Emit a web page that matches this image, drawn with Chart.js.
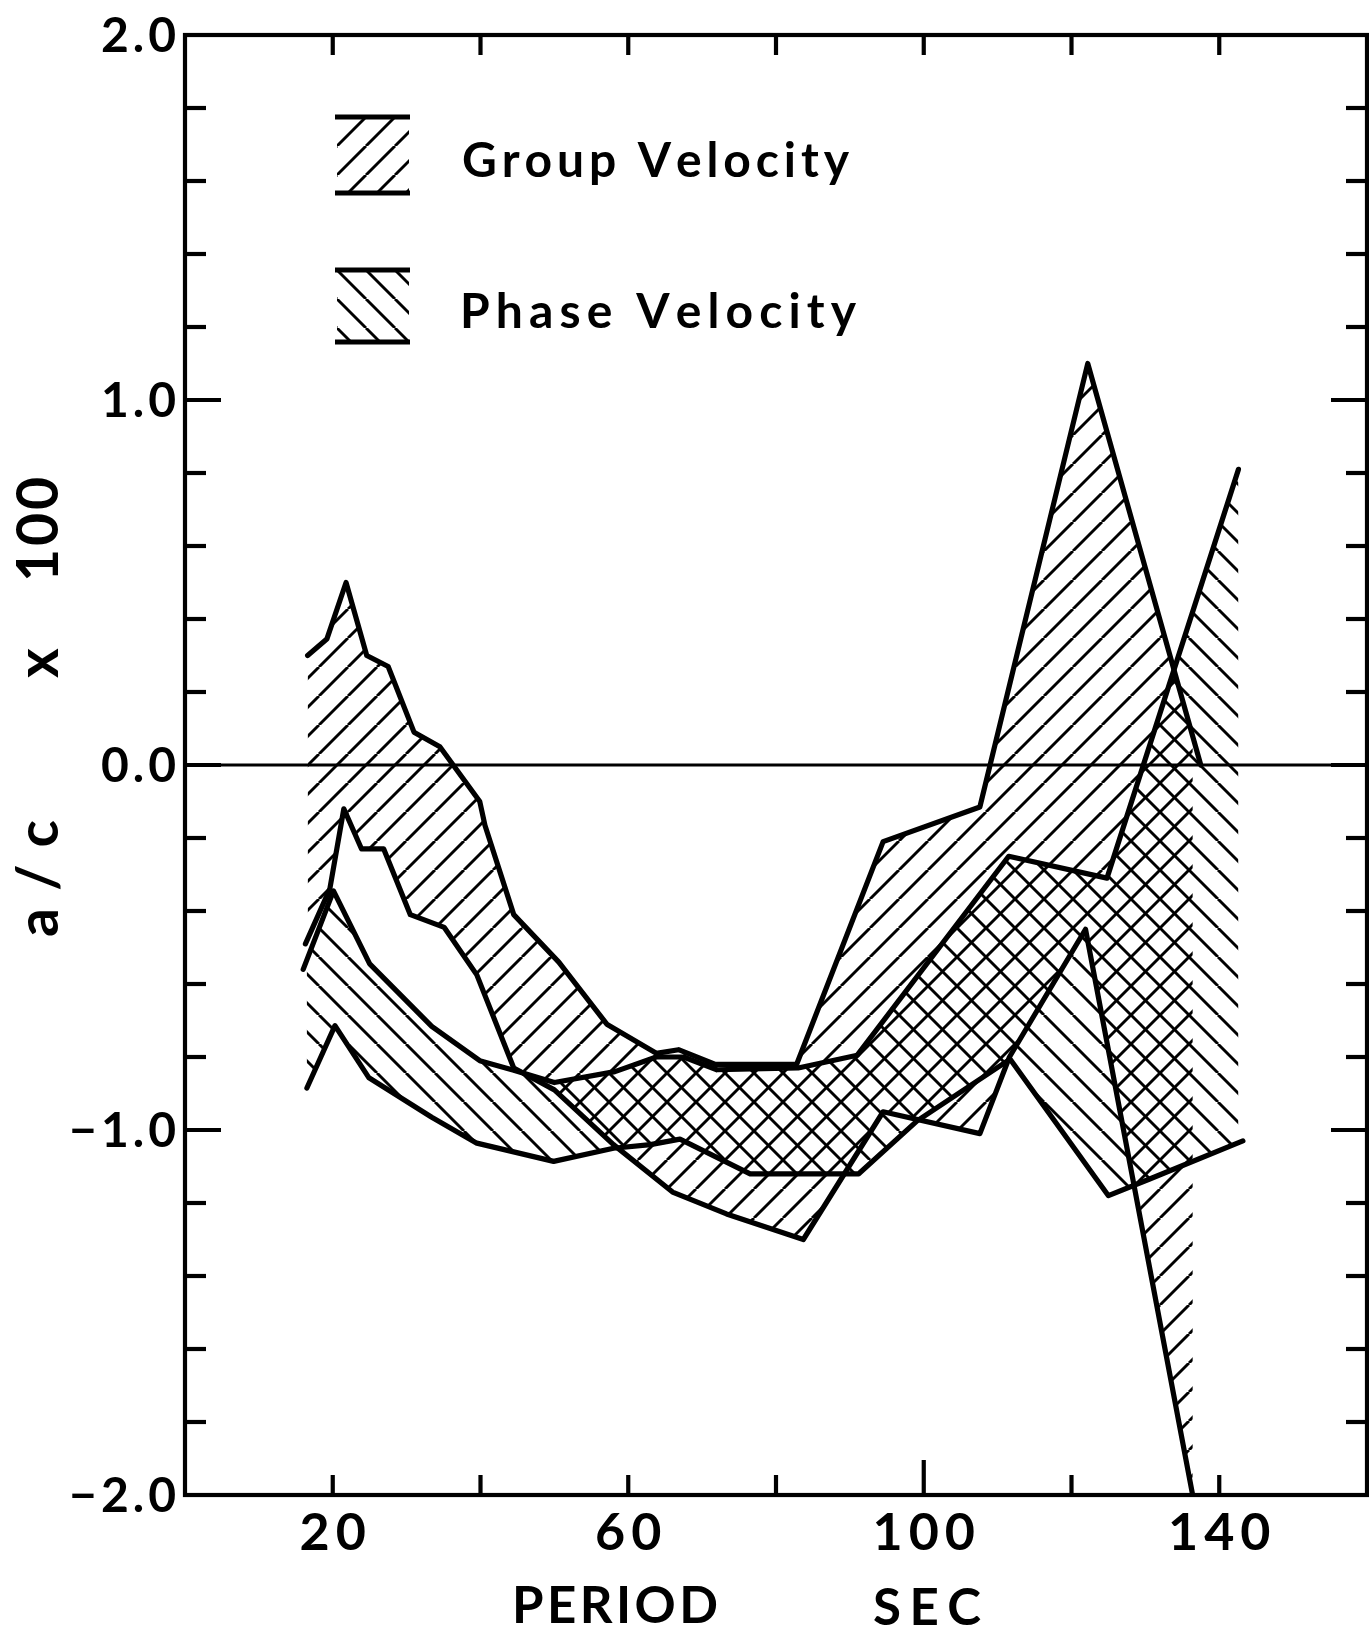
<!DOCTYPE html>
<html>
<head>
<meta charset="utf-8">
<title>a/c versus period</title>
<script src="https://cdn.jsdelivr.net/npm/chart.js@4.4.0/dist/chart.umd.min.js"></script>
<style>
  html, body { margin: 0; padding: 0; background: #fff; }
  #wrap { width: 1369px; height: 1635px; }
</style>
</head>
<body>
<div id="wrap"><canvas id="chart" width="1369" height="1635"></canvas></div>
<script>
// Period (sec) and a/c x 100 along each edge of the two bands
const groupUpperT = [16.6, 19.2, 21.8, 24.6, 27.5, 31.0, 34.5, 39.9, 40.6, 44.5, 50.6, 57.1, 63.8, 66.8, 71.8, 82.8, 94.5, 107.6, 122.2, 137.5];
const groupUpperV = [0.30, 0.345, 0.50, 0.30, 0.27, 0.09, 0.05, -0.10, -0.165, -0.41, -0.54, -0.71, -0.79, -0.78, -0.82, -0.82, -0.21, -0.115, 1.10, 0.0];

const groupLowerT = [16.3, 19.6, 21.5, 23.9, 26.9, 30.5, 35.1, 39.5, 44.5, 50.0, 58.0, 66.0, 73.3, 83.7, 94.5, 107.6, 111.6, 121.9, 136.4];
const groupLowerV = [-0.49, -0.34, -0.12, -0.23, -0.23, -0.41, -0.445, -0.575, -0.83, -0.89, -1.04, -1.17, -1.23, -1.30, -0.95, -1.01, -0.80, -0.45, -2.0];

const phaseUpperT = [16.0, 20.1, 25.0, 33.4, 39.9, 44.5, 50.0, 58.2, 63.8, 67.5, 72.0, 83.0, 91.0, 111.5, 124.8, 142.6];
const phaseUpperV = [-0.56, -0.345, -0.545, -0.716, -0.81, -0.836, -0.87, -0.84, -0.80, -0.80, -0.835, -0.83, -0.795, -0.25, -0.31, 0.81];

const phaseLowerT = [16.5, 20.3, 24.9, 33.4, 39.5, 49.9, 58.0, 63.0, 67.0, 76.5, 91.2, 99.1, 111.7, 125.0, 130.5, 143.2];
const phaseLowerV = [-0.885, -0.714, -0.857, -0.965, -1.036, -1.086, -1.05, -1.04, -1.025, -1.12, -1.12, -0.975, -0.806, -1.18, -1.135, -1.03];

// Axis ticks
const xTicks = [20, 40, 60, 80, 100, 120, 140];
const xTickLabels = ['20', '', '60', '', '100', '', '140'];
const yMajorTicks = [2, 1, 0, -1, -2];
const yTickLabels = ['2.0', '1.0', '0.0', '-1.0', '-2.0'];
const yMinorTicks = [1.8, 1.6, 1.4, 1.2, 0.8, 0.6, 0.4, 0.2, -0.2, -0.4, -0.6, -0.8, -1.2, -1.4, -1.6, -1.8];

const FONT = 'Lato, "DejaVu Sans", sans-serif';
const canvas = document.getElementById('chart');
const ctx0 = canvas.getContext('2d');

// diagonal hatch tiles: '/' for group velocity, '\' for phase velocity
function makeHatch(dir) {
    const s = 29;
    const tile = document.createElement('canvas');
    tile.width = s;
    tile.height = s;
    const g = tile.getContext('2d');
    g.strokeStyle = '#000';
    g.lineWidth = 2.9;
    g.beginPath();
    for (const k of [-1, 0, 1]) {
        if (dir === '/') {
            g.moveTo(k * s, s);
            g.lineTo(k * s + s, 0);
        } else {
            g.moveTo(k * s, 0);
            g.lineTo(k * s + s, s);
        }
    }
    g.stroke();
    return ctx0.createPattern(tile, 'repeat');
}

const groupHatch = makeHatch('/');
const phaseHatch = makeHatch('\\');

function points(ts, vs) {
    return ts.map((t, i) => ({ x: t, y: vs[i] }));
}

const edgeStyle = {
    borderColor: '#000',
    borderWidth: 5.2,
    borderJoinStyle: 'round',
    borderCapStyle: 'round',
    pointRadius: 0,
    tension: 0
};

// draw characters one by one so the string runs from x0 to x1
function fitText(ctx, text, x0, x1, y) {
    const chars = [...text];
    const widths = chars.map(ch => ctx.measureText(ch).width);
    const used = widths.reduce((s, w) => s + w, 0);
    const gap = chars.length > 1 ? (x1 - x0 - used) / (chars.length - 1) : 0;
    ctx.textAlign = 'left';
    let cx = x0;
    chars.forEach((ch, i) => {
        ctx.fillText(ch, cx, y);
        cx += widths[i] + gap;
    });
}

function spacedText(ctx, text, cx, y, gap, align) {
    const chars = [...text];
    const widths = chars.map(ch => ctx.measureText(ch).width);
    const total = widths.reduce((s, w) => s + w, 0) + gap * (chars.length - 1);
    let x = align === 'right' ? cx - total : cx - total / 2;
    ctx.textAlign = 'left';
    chars.forEach((ch, i) => {
        ctx.fillText(ch, x, y);
        x += widths[i] + gap;
    });
}

function seg(ctx, x1, y1, x2, y2) {
    ctx.beginPath();
    ctx.moveTo(x1, y1);
    ctx.lineTo(x2, y2);
    ctx.stroke();
}

const framePlugin = {
    id: 'frame',
    afterDatasetsDraw(chart) {
        const { ctx, chartArea: a, scales: { x, y } } = chart;
        ctx.save();
        ctx.strokeStyle = '#000';
        ctx.fillStyle = '#000';
        ctx.lineCap = 'butt';

        // zero line
        ctx.lineWidth = 3;
        const y0 = y.getPixelForValue(0);
        seg(ctx, a.left, y0, a.right, y0);

        // frame
        ctx.lineWidth = 4.2;
        ctx.strokeRect(a.left, a.top, a.right - a.left, a.bottom - a.top);

        // inward ticks, left and right
        yMinorTicks.forEach(v => {
            const py = y.getPixelForValue(v);
            seg(ctx, a.left, py, a.left + 21, py);
            seg(ctx, a.right - 21, py, a.right, py);
        });
        yMajorTicks.forEach(v => {
            const py = y.getPixelForValue(v);
            seg(ctx, a.left, py, a.left + 36, py);
            seg(ctx, a.right - 36, py, a.right, py);
        });

        // inward ticks, top and bottom
        xTicks.forEach(v => {
            const px = x.getPixelForValue(v);
            seg(ctx, px, a.top, px, a.top + 20);
            seg(ctx, px, a.bottom, px, a.bottom - (v === 100 ? 35 : 20));
        });

        // tick labels
        ctx.font = 'bold 48px ' + FONT;
        ctx.textBaseline = 'alphabetic';
        yMajorTicks.forEach((v, i) => {
            spacedText(ctx, yTickLabels[i].replace('-', '\u2212'), a.left - 9, y.getPixelForValue(v) + 17, 4, 'right');
        });
        ctx.font = 'bold 52px ' + FONT;
        xTicks.forEach((v, i) => {
            if (xTickLabels[i]) spacedText(ctx, xTickLabels[i], x.getPixelForValue(v), 1550, 6, 'center');
        });

        // axis titles
        ctx.font = 'bold 51px ' + FONT;
        fitText(ctx, 'PERIOD', 512, 718, 1623);
        fitText(ctx, 'SEC', 873, 981, 1625);

        ctx.save();
        ctx.translate(58, 0);
        ctx.rotate(-Math.PI / 2);
        ctx.font = 'bold 57px ' + FONT;
        fitText(ctx, 'a/c', -937, -820, 0);
        fitText(ctx, 'x', -678, -653, 0);
        fitText(ctx, '100', -582, -477, 0);
        ctx.restore();

        // legend
        const swatches = [
            { pattern: groupHatch, top: 117, bottom: 193, text: 'Group Velocity', tx0: 462, tx1: 849, base: 177 },
            { pattern: phaseHatch, top: 270, bottom: 342, text: 'Phase Velocity', tx0: 460, tx1: 856, base: 328 }
        ];
        swatches.forEach(s => {
            ctx.save();
            ctx.beginPath();
            ctx.rect(337, s.top, 72, s.bottom - s.top);
            ctx.clip();
            ctx.translate(337, s.top);
            ctx.fillStyle = s.pattern;
            ctx.fillRect(0, 0, 72, s.bottom - s.top);
            ctx.restore();
            ctx.lineWidth = 5;
            seg(ctx, 335, s.top, 410, s.top);
            seg(ctx, 335, s.bottom, 410, s.bottom);
            ctx.font = 'bold 48px ' + FONT;
            fitText(ctx, s.text, s.tx0, s.tx1, s.base);
        });

        ctx.restore();
    }
};

new Chart(canvas, {
    type: 'line',
    data: {
        datasets: [
            { ...edgeStyle, label: 'Group Velocity', data: points(groupUpperT, groupUpperV), fill: 1, backgroundColor: groupHatch },
            { ...edgeStyle, label: 'Group Velocity lower', data: points(groupLowerT, groupLowerV), fill: false },
            { ...edgeStyle, label: 'Phase Velocity', data: points(phaseUpperT, phaseUpperV), fill: 3, backgroundColor: phaseHatch },
            { ...edgeStyle, label: 'Phase Velocity lower', data: points(phaseLowerT, phaseLowerV), fill: false }
        ]
    },
    options: {
        responsive: false,
        animation: false,
        devicePixelRatio: 1,
        layout: { padding: { left: 185, right: 2, top: 35, bottom: 140 } },
        scales: {
            x: { type: 'linear', min: 0, max: 160, display: false },
            y: { type: 'linear', min: -2, max: 2, display: false }
        },
        plugins: {
            legend: { display: false },
            tooltip: { enabled: false },
            filler: { drawTime: 'beforeDatasetsDraw' }
        }
    },
    plugins: [framePlugin]
});
</script>
</body>
</html>
